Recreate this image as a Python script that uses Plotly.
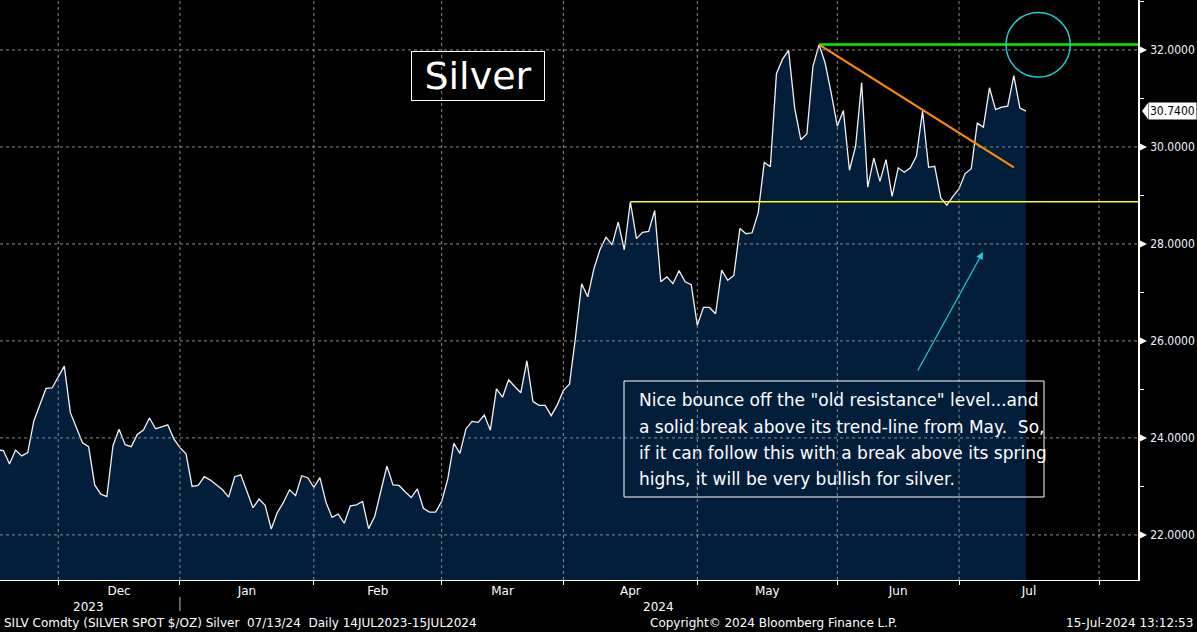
import pandas as pd
import plotly.graph_objects as go

# ---------------- data ----------------
START_DATE = "2023-11-17"
HOLIDAYS = ["2023-12-25", "2024-01-01", "2024-03-29"]

PRICES = [
    23.75, 23.74, 23.46, 23.75, 23.63, 23.70, 24.35, 24.68, 25.02, 25.03,
    25.25, 25.48, 24.52, 24.20, 23.90, 23.82, 23.03, 22.84, 22.79, 23.84,
    24.18, 23.86, 23.82, 24.07, 24.16, 24.41, 24.19, 24.23, 24.27, 23.98,
    23.80, 23.67, 23.00, 23.02, 23.20, 23.13, 23.03, 22.93, 22.78, 23.20,
    23.24, 22.91, 22.56, 22.74, 22.61, 22.12, 22.46, 22.67, 22.93, 22.81,
    23.22, 23.18, 22.98, 23.18, 22.67, 22.36, 22.43, 22.24, 22.60, 22.62,
    22.69, 22.13, 22.38, 22.90, 23.42, 23.03, 23.02, 22.89, 22.77, 22.95,
    22.55, 22.47, 22.47, 22.69, 23.15, 23.89, 23.68, 24.19, 24.34, 24.32,
    24.47, 24.16, 25.01, 24.84, 25.20, 25.06, 24.93, 25.59, 24.75, 24.67,
    24.67, 24.46, 24.68, 24.98, 25.11, 26.09, 27.18, 26.91, 27.48, 27.88,
    28.14, 27.98, 28.45, 27.88, 28.87, 28.11, 28.24, 28.26, 28.69, 27.22,
    27.32, 27.18, 27.45, 27.22, 27.16, 26.32, 26.69, 26.69, 26.56, 27.46,
    27.25, 27.35, 28.32, 28.21, 28.23, 28.64, 29.68, 29.59, 31.51, 31.81,
    31.99, 30.80, 30.15, 30.27, 31.66, 32.11, 31.73, 31.11, 30.43, 30.75,
    29.52, 30.01, 31.33, 29.17, 29.77, 29.29, 29.74, 28.98, 29.57, 29.48,
    29.57, 29.81, 30.74, 29.58, 29.60, 28.95, 28.80, 28.98, 29.14, 29.45,
    29.55, 30.49, 30.41, 31.22, 30.77, 30.82, 30.84, 31.47, 30.80, 30.74,
]
LAST_PRICE = 30.74
MONTH_LABELS = ["Dec", "Jan", "Feb", "Mar", "Apr", "May", "Jun", "Jul"]
YEAR_LABELS = ["2023", "2024"]
Y_TICKS = [22, 24, 26, 28, 30, 32]
TREND_END_PRICE = 29.58

TITLE = "Silver"
COMMENT_LINES = [
    "Nice bounce off the \"old resistance\" level...and",
    "a solid break above its trend-line from May.\u00a0 So,",
    "if it can follow this with a break above its spring",
    "highs, it will be very bullish for silver.",
]
FOOTER_LEFT = "SILV Comdty (SILVER SPOT $/OZ) Silver\u00a0 07/13/24\u00a0 Daily 14JUL2023-15JUL2024"
FOOTER_CENTER = "Copyright\u00a9 2024 Bloomberg Finance L.P."
FOOTER_RIGHT = "15-Jul-2024 13:12:53"

# ---------------- calendar ----------------
cal = pd.bdate_range(START_DATE, "2024-08-30", freq="C", holidays=HOLIDAYS)
dates = cal[: len(PRICES)]

cal_s = pd.Series(cal, index=cal)
month_first = cal_s.groupby(cal.to_period("M")).first()
month_first = month_first[month_first.index >= pd.Period("2023-12", "M")]
starts = list(month_first.values)
pos = [cal.get_loc(pd.Timestamp(d)) for d in starts]


def at(idx):
    i = int(idx)
    return cal[i] + pd.Timedelta(days=idx - i)


label_pos = [at((pos[k] + pos[k + 1]) / 2) for k in range(len(MONTH_LABELS))]

x_start = at(0.44)
x_end = at(187.4)

FONT_C = "DejaVu Sans Condensed, DejaVu Sans, sans-serif"
FONT = "DejaVu Sans, sans-serif"
GRID = "#8c8c8c"
PLOT_H = 580.0

fig = go.Figure()
fig.add_trace(go.Scatter(
    x=dates, y=PRICES, mode="lines",
    line=dict(color="#f2f2f2", width=1.3),
    fill="tozeroy", fillcolor="#031e3b",
    hoverinfo="skip", showlegend=False,
))

shapes = []
# grid lines drawn above the fill (like the reference)
for v in Y_TICKS:
    shapes.append(dict(type="line", xref="paper", x0=0, x1=1, yref="y", y0=v, y1=v,
                       line=dict(color=GRID, width=1, dash="dot"), layer="above"))
for d in starts:
    shapes.append(dict(type="line", xref="x", x0=d, x1=d, yref="paper", y0=0, y1=1,
                       line=dict(color=GRID, width=1, dash="dot"), layer="above"))

high_i = PRICES.index(max(PRICES))
res_i = 104
trend_i = 167
# old resistance (yellow)
shapes.append(dict(type="line", xref="x", x0=dates[res_i], x1=x_end, yref="y",
                   y0=PRICES[res_i], y1=PRICES[res_i],
                   line=dict(color="#ffff00", width=1.5), layer="above"))
# spring high (green)
shapes.append(dict(type="line", xref="x", x0=dates[high_i], x1=x_end, yref="y",
                   y0=PRICES[high_i], y1=PRICES[high_i],
                   line=dict(color="#00f000", width=2.5), layer="above"))
# trend line (orange)
shapes.append(dict(type="line", xref="x", x0=dates[high_i], x1=dates[trend_i], yref="y",
                   y0=PRICES[high_i], y1=TREND_END_PRICE,
                   line=dict(color="#ff8c00", width=2.2), layer="above"))
# cyan circle
shapes.append(dict(type="circle", xref="paper", x0=1006 / 1138, x1=1070.3 / 1138,
                   yref="y", y0=31.44, y1=32.77,
                   line=dict(color="#1ccfd2", width=1.5), layer="above"))
# comment box border
shapes.append(dict(type="rect", xref="paper", x0=624 / 1138, x1=1044 / 1138,
                   yref="paper", y0=1 - 497 / PLOT_H, y1=1 - 381 / PLOT_H,
                   line=dict(color="white", width=1), layer="above"))
# year separator
shapes.append(dict(type="line", xref="x", x0=starts[1], x1=starts[1], yref="paper",
                   y0=1 - 597 / PLOT_H, y1=1 - 611 / PLOT_H,
                   line=dict(color="#bbbbbb", width=1)))
# tick markers on right axis
for v in Y_TICKS:
    shapes.append(dict(type="path", xref="paper", xanchor=1, xsizemode="pixel",
                       yref="y", yanchor=v, ysizemode="pixel",
                       path="M 1,4 L 1,-4 L 9,0 Z", fillcolor="white",
                       line=dict(width=0)))
# last value pointer
shapes.append(dict(type="path", xref="paper", xanchor=1, xsizemode="pixel",
                   yref="y", yanchor=LAST_PRICE, ysizemode="pixel",
                   path="M 4,0 L 10,8 L 10,-8 Z", fillcolor="white",
                   line=dict(width=0)))

annotations = []
annotations.append(dict(
    text=TITLE, xref="paper", yref="paper", x=478 / 1138, y=1 - 76 / PLOT_H,
    xanchor="center", yanchor="middle", showarrow=False,
    font=dict(family=FONT, size=38, color="white"),
    bordercolor="white", borderwidth=1, borderpad=2, width=128, height=44,
))
line_y = [400, 426.5, 452.5, 478.5]
for t, yy in zip(COMMENT_LINES, line_y):
    annotations.append(dict(
        text=t, xref="paper", yref="paper", x=637 / 1138, y=1 - yy / PLOT_H,
        xanchor="left", yanchor="middle", showarrow=False,
        font=dict(family=FONT, size=17, color="white"),
    ))
# cyan arrow
annotations.append(dict(
    text="", xref="paper", yref="y", x=983 / 1138, y=27.835,
    ax=-66, ay=120, axref="pixel", ayref="pixel", showarrow=True,
    arrowhead=2, arrowsize=1.2, arrowwidth=1.2, arrowcolor="#1ccfd2",
))
# last value label
annotations.append(dict(
    text=f"{LAST_PRICE:.4f}", xref="paper", yref="y", x=1, y=LAST_PRICE,
    xanchor="left", yanchor="middle", xshift=10, showarrow=False,
    bgcolor="white", borderpad=1,
    font=dict(family=FONT_C, size=12, color="black"),
))
# year labels
year_pos = [cal[15], at(108.7)]
for t, d in zip(YEAR_LABELS, year_pos):
    annotations.append(dict(
        text=t, xref="x", yref="paper", x=d, y=1 - 606.5 / PLOT_H,
        xanchor="center", yanchor="middle", showarrow=False,
        font=dict(family=FONT, size=12, color="white"),
    ))
# footer
annotations.append(dict(text=FOOTER_LEFT, xref="paper", yref="paper", x=2 / 1138,
                        y=1 - 622.5 / PLOT_H, xanchor="left", yanchor="middle",
                        showarrow=False, font=dict(family=FONT, size=12, color="white")))
annotations.append(dict(text=FOOTER_CENTER, xref="paper", yref="paper", x=773 / 1138,
                        y=1 - 622.5 / PLOT_H, xanchor="center", yanchor="middle",
                        showarrow=False, font=dict(family=FONT, size=12, color="white")))
annotations.append(dict(text=FOOTER_RIGHT, xref="paper", yref="paper", x=1195 / 1138,
                        y=1 - 622.5 / PLOT_H, xanchor="right", yanchor="middle",
                        showarrow=False, font=dict(family=FONT, size=12, color="white")))

fig.update_layout(
    width=1197, height=632,
    margin=dict(l=0, r=59, t=0, b=52),
    paper_bgcolor="black", plot_bgcolor="black",
    showlegend=False,
    shapes=shapes, annotations=annotations,
    xaxis=dict(
        type="date", range=[x_start, x_end],
        rangebreaks=[dict(bounds=["sat", "mon"]), dict(values=HOLIDAYS)],
        tickmode="array", tickvals=label_pos, ticktext=MONTH_LABELS,
        ticks="", showgrid=False, zeroline=False,
        showline=True, linecolor="white", linewidth=1,
        tickfont=dict(family=FONT, size=12, color="white"),
        minor=dict(tickmode="array", tickvals=starts, ticks="outside", ticklen=4,
                   tickcolor="white", showgrid=False),
        fixedrange=True,
    ),
    yaxis=dict(
        side="right", range=[21.07, 33.03],
        tickmode="array", tickvals=Y_TICKS, tickformat=".4f",
        ticks="", showgrid=False, zeroline=False,
        showline=True, linecolor="white", linewidth=1.5,
        tickfont=dict(family=FONT_C, size=12, color="#eef4ff"),
        ticklabelstandoff=8,
        minor=dict(dtick=1, tick0=0, ticks="outside", ticklen=4,
                   tickcolor="white", showgrid=False),
        fixedrange=True,
    ),
)

fig.write_html(
    "out.html",
    config={"displayModeBar": False},
    post_script="document.body.style.margin='0';document.body.style.overflow='hidden';",
)
